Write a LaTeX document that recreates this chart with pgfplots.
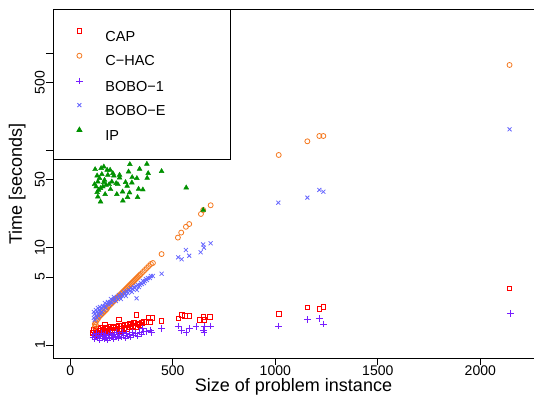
\documentclass[border=0pt]{standalone}
\usepackage{fontspec}
\setmainfont{Liberation Sans}
\usepackage{pgfplots}
\pgfplotsset{compat=1.18}
\definecolor{capred}{RGB}{255,0,0}
\definecolor{hacorange}{RGB}{245,120,30}
\definecolor{boboone}{RGB}{120,30,255}
\definecolor{boboe}{RGB}{100,100,255}
\definecolor{ipgreen}{RGB}{0,145,0}
\begin{document}
\begin{tikzpicture}
\useasboundingbox (-53pt,-38pt) rectangle (481pt,358pt);
\begin{axis}[
  scale only axis, width=481pt, height=348.5pt,
  xmin=-84.4, xmax=2262, ymode=log, ymin=0.735, ymax=2806,
  axis lines*=left,
  axis line style={line width=1pt},
  tick align=outside, major tick length=7pt,
  tick style={black, line width=0.8pt},
  yminorticks=false,
  xtick={0,500,1000,1500,2000}, xticklabels={0,500,1000,1500,2000},
  ytick={1,5,10,50,100,500,1000}, yticklabels={1,5,10,50,{},500,{}},
  ticklabel style={font=\fontsize{14}{16}\selectfont},
  yticklabel style={rotate=90, anchor=south, inner sep=1pt},
  xticklabel style={anchor=north, inner sep=1pt},
  /pgf/number format/assume math mode=true,
  xlabel={Size of problem instance}, ylabel={Time [seconds]},
  label style={font=\fontsize{18}{20}\selectfont},
  xlabel style={at={(axis description cs:0.5,-0.097)}, anchor=base},
  ylabel style={at={(axis description cs:-0.0645,0.5)}, anchor=base, rotate=0},
  legend style={at={(rel axis cs:0,1)}, anchor=north west, draw=black, line width=0.8pt,
    fill=white, inner xsep=0pt, inner ysep=19pt, row sep=11.8pt,
    font=\fontsize{14.5}{16}\selectfont,
    nodes={text width=125pt, inner sep=0pt, text height=10.5pt, text depth=0pt},
    cells={anchor=west}},
  legend image code/.code={\path[draw=none] (0pt,0pt) (52pt,0pt); \draw[#1] plot coordinates {(26pt,5pt)};},
]
% CAP
\addplot[only marks, mark=square, mark size=2.3pt, color=capred, line width=0.8pt, mark options={draw=capred}] coordinates {
(109.9,1.328)(114.7,1.426)(119.6,1.267)(124.5,1.393)(129.4,1.328)(134.3,1.460)(139.2,1.297)(144.0,1.393)
(148.9,1.495)(153.8,1.328)(158.7,1.426)(163.6,1.360)(168.5,1.495)(173.3,1.393)(178.2,1.328)(183.1,1.460)
(192.9,1.393)(197.8,1.531)(202.6,1.426)(212.4,1.495)(217.3,1.360)(222.2,1.531)(227.1,1.426)(236.8,1.568)
(241.7,1.460)(246.6,1.393)(251.5,1.568)(261.2,1.495)(266.1,1.605)(275.9,1.460)(280.8,1.605)(290.5,1.531)
(295.4,1.644)(305.2,1.568)(310.1,1.683)(319.8,1.531)(329.6,1.644)(339.4,1.605)(349.1,1.683)(358.9,1.723)
(681.1,1.954)(648.4,1.954)(632.3,1.807)(651.9,1.807)(580.1,1.986)(559.1,1.986)(543,2.034)(526.4,1.882)
(445.3,1.765)(401.4,1.908)(380,1.908)(372,1.736)(391.6,1.736)(323.2,2.034)(347.7,1.711)(238.3,1.837)
(290.5,1.671)(266.1,1.632)(209,1.542)(168.5,1.632)(1016.6,2.097)(1156.3,2.440)(1214.8,2.344)(1234.4,2.475)
(2142.6,3.825)};
\addlegendentry{CAP}
% C-HAC
\addplot[only marks, mark=o, mark size=2.5pt, color=hacorange, line width=0.8pt, mark options={draw=hacorange}] coordinates {
(119.6,1.531)(124.5,1.605)
(119.6,1.644)(124.5,1.723)(129.4,1.807)(134.3,1.850)(139.2,1.940)(144.0,1.986)(148.9,2.034)(153.8,2.083)
(158.7,2.132)(163.6,2.184)(168.5,2.236)(173.3,2.289)(178.2,2.344)(183.1,2.458)(188.0,2.517)(192.9,2.577)
(197.8,2.639)(202.6,2.702)(207.5,2.766)(212.4,2.833)(217.3,2.900)(222.2,2.970)(227.1,3.041)(231.9,3.113)
(236.8,3.188)(241.7,3.265)(246.6,3.343)(251.5,3.422)(256.3,3.504)(261.2,3.589)(266.1,3.674)(271.0,3.762)
(275.9,3.852)(280.8,3.945)(285.6,4.040)(290.5,4.136)(295.4,4.236)(300.3,4.337)(305.2,4.441)(310.1,4.547)
(315.0,4.656)(319.8,4.768)(324.7,4.882)(329.6,4.999)(334.5,5.118)(339.4,5.241)(344.2,5.366)(354.0,5.626)
(363.8,5.900)(373.5,6.185)(383.3,6.485)(393.1,6.800)(402.9,6.963)(445.3,8.6)
(524.9,12.7)(541,14.3)(564,16.4)(580.1,17.5)(637.2,22.2)(648.4,24.4)(684.6,27.3)
(1016.6,89.7)(1156.3,124.0)(1214.8,140.6)(1234.4,140.6)(2142.6,754.7)};
\addlegendentry{C−HAC}
% BOBO-1
\addplot[only marks, mark=+, mark size=3.3pt, color=boboone, line width=0.8pt, mark options={draw=boboone}] coordinates {
(109.9,1.208)(114.7,1.297)(119.6,1.152)(124.5,1.237)(129.4,1.328)(134.3,1.180)(139.2,1.267)(144.0,1.126)
(148.9,1.237)(153.8,1.328)(158.7,1.180)(163.6,1.267)(168.5,1.152)(173.3,1.297)(178.2,1.208)(183.1,1.126)
(188.0,1.267)(192.9,1.180)(197.8,1.328)(202.6,1.208)(207.5,1.267)(212.4,1.152)(217.3,1.297)(222.2,1.208)
(227.1,1.360)(231.9,1.237)(236.8,1.180)(241.7,1.297)(251.5,1.208)(256.3,1.360)(261.2,1.267)(271.0,1.180)
(275.9,1.328)(280.8,1.237)(290.5,1.297)(295.4,1.208)(305.2,1.360)(310.1,1.267)(319.8,1.328)(329.6,1.237)
(339.4,1.360)(349.1,1.297)(358.9,1.393)
(352.5,1.484)(372,1.370)(391.6,1.426)(396.5,1.338)(445.3,1.484)(526.4,1.568)(543,1.403)(564,1.338)
(580.1,1.484)(612.8,1.542)(648.4,1.426)(651.9,1.542)(651.9,1.338)(684.6,1.568)(1016.6,1.568)(1156.3,1.837)
(1214.8,1.863)(1234.4,1.644)(2146,2.117)};
\addlegendentry{BOBO−1}
% BOBO-E
\addplot[only marks, mark=x, mark size=2.8pt, color=boboe, line width=0.8pt, mark options={draw=boboe}] coordinates {
(114.7,1.895)(114.7,2.184)(119.6,1.807)(119.6,2.083)(124.5,1.986)(124.5,2.289)(129.4,1.895)(129.4,2.184)
(134.3,2.083)(134.3,2.400)(139.2,1.986)(139.2,2.289)(144.0,2.236)(144.0,2.458)(148.9,2.083)(153.8,2.400)
(153.8,2.184)(158.7,2.517)(163.6,2.289)(168.5,2.517)(168.5,2.702)(173.3,2.400)(178.2,2.639)(183.1,2.766)
(188.0,2.577)(192.9,2.766)(197.8,2.970)(202.6,2.702)(207.5,2.900)(212.4,3.113)(217.3,2.970)(222.2,2.833)
(227.1,3.113)(231.9,2.970)(236.8,3.265)(241.7,3.113)(246.6,2.970)(251.5,3.343)(256.3,3.188)(261.2,3.504)
(266.1,3.343)(271.0,3.188)(275.9,3.589)(280.8,3.422)(285.6,3.674)(290.5,3.589)(295.4,3.852)(300.3,3.504)
(305.2,3.762)(310.1,3.945)(315.0,3.852)(319.8,4.040)(324.7,3.674)(329.6,4.136)(334.5,3.945)(339.4,4.136)
(344.2,4.337)(349.1,4.236)(354.0,4.547)(358.9,4.337)(363.8,4.547)(368.7,4.768)(373.5,4.656)(378.4,4.882)
(388.2,4.882)(393.1,5.118)(402.8,5.118)(323.2,3.019)
(445.3,5.40)(526.4,7.97)(543,7.60)(564,9.47)(580.1,8.27)(635.7,8.97)(648.4,10.8)(651.9,10.0)(684.6,11.1)
(1014.6,29.0)(1156.3,32.7)(1214.8,39.2)(1234.4,37.6)(2142.6,164.8)};
\addlegendentry{BOBO−E}
% IP
\addplot[only marks, mark=triangle*, mark size=2.8pt, color=ipgreen, mark options={draw=ipgreen, fill=ipgreen}] coordinates {
(121.1,63.9)(150.4,65.5)(163.6,68.0)(194.3,62.9)(207.5,58.2)(290.5,72.0)(373.5,72.5)(337.9,64.4)
(284.2,60.4)(379.9,58.2)(445.3,61.0)(565.4,41.4)(375,52.0)(324.7,51.7)(301.8,52.9)(240.2,52.4)
(269.5,47.0)(300.3,46.6)(231.9,44.8)(277.3,43.1)(333,40.1)(354,39.5)(254.9,37.6)(289.1,36.8)
(227,35.4)(279.3,33.0)(328.1,33.0)(256.3,30.4)(147.5,29.7)(169.9,35.4)(196.3,39.8)(134.3,33.4)
(126,42.4)(137.7,39.2)(158.7,42.4)(174.8,44.1)(118.2,44.8)(130.9,55.0)(142.6,51.7)(167,49.6)
(183.1,55.9)(212.4,55.0)(202.6,47.7)(189.5,44.8)(153.8,56.8)(134.3,47.7)(147.5,40.8)(130.9,37.1)
(163.6,47.0)(240.2,55.9)(179.7,62.9)(223.6,45.9)(648.4,24.4)};
\addlegendentry{IP}
\draw[line width=1pt] (rel axis cs:0,1) -- (rel axis cs:1,1);
\end{axis}
\end{tikzpicture}
\end{document}
